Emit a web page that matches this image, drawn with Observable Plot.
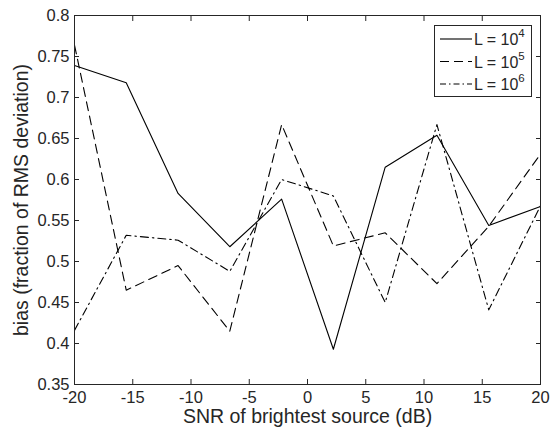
<!DOCTYPE html>
<html>
<head>
<meta charset="utf-8">
<script src="https://cdn.jsdelivr.net/npm/d3@7"></script>
<script src="https://cdn.jsdelivr.net/npm/@observablehq/plot@0.6"></script>
<style>
  html, body { margin: 0; padding: 0; background: #fff; }
  #chart { width: 550px; height: 428px; }
</style>
</head>
<body>
<div id="chart"></div>
<script>
const snr = [-20, -15.56, -11.11, -6.67, -2.22, 2.22, 6.67, 11.11, 15.56, 20];
const biasL4 = [0.739, 0.718, 0.583, 0.518, 0.576, 0.393, 0.615, 0.654, 0.544, 0.567];
const biasL5 = [0.764, 0.465, 0.495, 0.415, 0.667, 0.519, 0.535, 0.473, 0.543, 0.631];
const biasL6 = [0.416, 0.532, 0.526, 0.488, 0.600, 0.580, 0.450, 0.667, 0.441, 0.568];
const seriesNames = ["4", "5", "6"];
const xTicks = [-20, -15, -10, -5, 0, 5, 10, 15, 20];
const yTicks = [0.35, 0.4, 0.45, 0.5, 0.55, 0.6, 0.65, 0.7, 0.75, 0.8];

const dashes = {"4": null, "5": "9,5.5", "6": "8,4,1.5,4"};
const allSeries = [biasL4, biasL5, biasL6];
const rows = [];
allSeries.forEach((vals, k) => vals.forEach((v, i) => rows.push({x: snr[i], y: v, s: seriesNames[k]})));

const ink = "#262626";
const font = "'Liberation Sans', Arial, Helvetica, sans-serif";

const plot = Plot.plot({
  width: 550,
  height: 428,
  marginLeft: 74,
  marginRight: 10,
  marginTop: 15,
  marginBottom: 44,
  style: {fontFamily: font, fontSize: "16px", color: ink, background: "#fff"},
  x: {domain: [-20, 20]},
  y: {domain: [0.35, 0.8]},
  marks: [
    ...seriesNames.map(s => Plot.line(rows.filter(r => r.s === s), {
      x: "x", y: "y", stroke: "#000", strokeWidth: 1.1,
      strokeDasharray: dashes[s]
    })),
    Plot.frame({stroke: ink, strokeWidth: 1}),
    Plot.axisX(xTicks, {anchor: "bottom", tickSize: -5, text: null, label: null, stroke: ink}),
    Plot.axisX(xTicks, {anchor: "top", tickSize: -5, text: null, label: null, stroke: ink}),
    Plot.axisY(yTicks, {anchor: "left", tickSize: -5, text: null, label: null, stroke: ink}),
    Plot.axisY(yTicks, {anchor: "right", tickSize: -5, text: null, label: null, stroke: ink}),
    Plot.axisX(xTicks, {anchor: "bottom", tickSize: 0, tickPadding: 7, fill: ink,
      tickFormat: d => String(d),
      label: "SNR of brightest source (dB)", labelAnchor: "center", labelArrow: "none", labelOffset: 38}),
    Plot.axisY(yTicks, {anchor: "left", tickSize: 0, tickPadding: 5, fill: ink,
      tickFormat: d => String(d),
      label: "bias (fraction of RMS deviation)", labelAnchor: "center", labelArrow: "none", labelOffset: 60})
  ]
});

document.getElementById("chart").appendChild(plot);

const svg = d3.select(plot);
svg.selectAll("g[aria-label='x-axis tick label'], g[aria-label='y-axis tick label']")
  .attr("font-size", 16.5).style("font-size", "16.5px");
svg.selectAll("g[aria-label='x-axis tick label'] text, g[aria-label='y-axis tick label'] text")
  .style("font-size", "16.5px");
svg.selectAll("g[aria-label='x-axis label'], g[aria-label='y-axis label']")
  .attr("font-size", 19.5).style("font-size", "19.5px");
svg.selectAll("g[aria-label='x-axis label'] text, g[aria-label='y-axis label'] text")
  .style("font-size", "19.5px").attr("fill", ink);

// legend inside the plot area
const lx = 434, ly = 25, lw = 97, lh = 71;
const lg = svg.append("g").attr("font-family", font).attr("fill", ink).attr("text-anchor", "start");
lg.append("rect").attr("x", lx + 0.5).attr("y", ly + 0.5).attr("width", lw).attr("height", lh)
  .attr("fill", "#fff").attr("stroke", ink).attr("stroke-width", 1);
seriesNames.forEach((s, i) => {
  const yy = ly + 14 + i * 22.5;
  lg.append("line").attr("x1", lx + 6).attr("x2", lx + 38).attr("y1", yy).attr("y2", yy)
    .attr("stroke", "#000").attr("stroke-width", 1.1)
    .attr("stroke-dasharray", dashes[s] ? (s === "5" ? "9,5" : "6,3,1.5,3") : null);
  const t = lg.append("text").attr("x", lx + 40).attr("y", yy + 6).style("font-size", "16px").attr("text-anchor", "start");
  t.append("tspan").text("L = 10");
  t.append("tspan").attr("dy", -8).style("font-size", "11.5px").text(s);
});
</script>
</body>
</html>
